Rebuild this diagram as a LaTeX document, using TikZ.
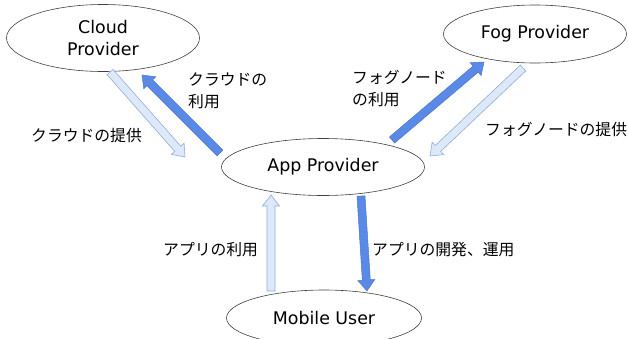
\documentclass[tikz,border=0pt]{standalone}
\usepackage{fontspec}
\setmainfont{DejaVu Sans}
\newfontfamily\jp{Noto Sans CJK JP}
\usetikzlibrary{calc,shapes.geometric}
\definecolor{darkblue}{HTML}{5A8AE6}
\definecolor{darkedge}{HTML}{4A78D0}
\definecolor{lightfill}{HTML}{DDE8F8}
\definecolor{lightedge}{HTML}{8FAEDF}
\tikzset{
  party/.style={ellipse, draw=black!75, line width=0.6pt, fill=white, inner sep=0pt, align=center, font=\fontsize{17.4}{22}\selectfont},
  usearr/.style={fill=darkblue, draw=darkedge, line width=0.5pt},
  provarr/.style={fill=lightfill, draw=lightedge, line width=0.6pt},
  lbl/.style={font=\jp\fontsize{15.8}{22}\selectfont, align=left, inner sep=0pt}
}
\newcommand\blockarr[3]{%
  \coordinate (H) at ($(#3)!11pt!(#2)$);
  \filldraw[#1] ($(#2)!4pt!90:(#3)$) -- ($(H)!4pt!-90:(#2)$) -- ($(H)!8.5pt!-90:(#2)$) -- (#3)
    -- ($(H)!8.5pt!90:(#2)$) -- ($(H)!4pt!90:(#2)$) -- ($(#2)!4pt!-90:(#3)$) -- cycle;
}
\begin{document}
\begin{tikzpicture}[x=1pt,y=-1pt]
\useasboundingbox (0,0) rectangle (628,338);
\node[party, minimum width=193pt, minimum height=67pt] (cloud) at (103,38) {Cloud\\Provider};
\node[party, minimum width=183pt, minimum height=58pt] (fog) at (535,34) {Fog Provider};
\node[party, minimum width=203pt, minimum height=57pt] (app) at (323,167) {App Provider};
\node[party, minimum width=195pt, minimum height=56pt] (mob) at (324,318) {Mobile User};
% arrow end points
\coordinate (c1) at (110,72);  \coordinate (c2) at (185,157);
\coordinate (u1) at (220,153); \coordinate (u2) at (142,75);
\coordinate (f1) at (392,140); \coordinate (f2) at (484,62);
\coordinate (g1) at (523,68);  \coordinate (g2) at (430,156);
\coordinate (a1) at (271,291); \coordinate (a2) at (271,195);
\coordinate (d1) at (361,196); \coordinate (d2) at (367,291);
\blockarr{provarr}{c1}{c2}
\blockarr{usearr}{u1}{u2}
\blockarr{usearr}{f1}{f2}
\blockarr{provarr}{g1}{g2}
\blockarr{provarr}{a1}{a2}
\blockarr{usearr}{d1}{d2}
\node[lbl, anchor=west] (l1) at (188,91) {クラウドの\\利用};
\node[lbl, anchor=west] (l2) at (31,135) {クラウドの提供};
\node[lbl, anchor=west] (l3) at (352,89) {フォグノード\\の利用};
\node[lbl, anchor=west] (l4) at (485,129) {フォグノードの提供};
\node[lbl, anchor=west] (l5) at (163,250) {アプリの利用};
\node[lbl, anchor=west] (l6) at (372,250) {アプリの開発、運用};
\end{tikzpicture}
\end{document}
